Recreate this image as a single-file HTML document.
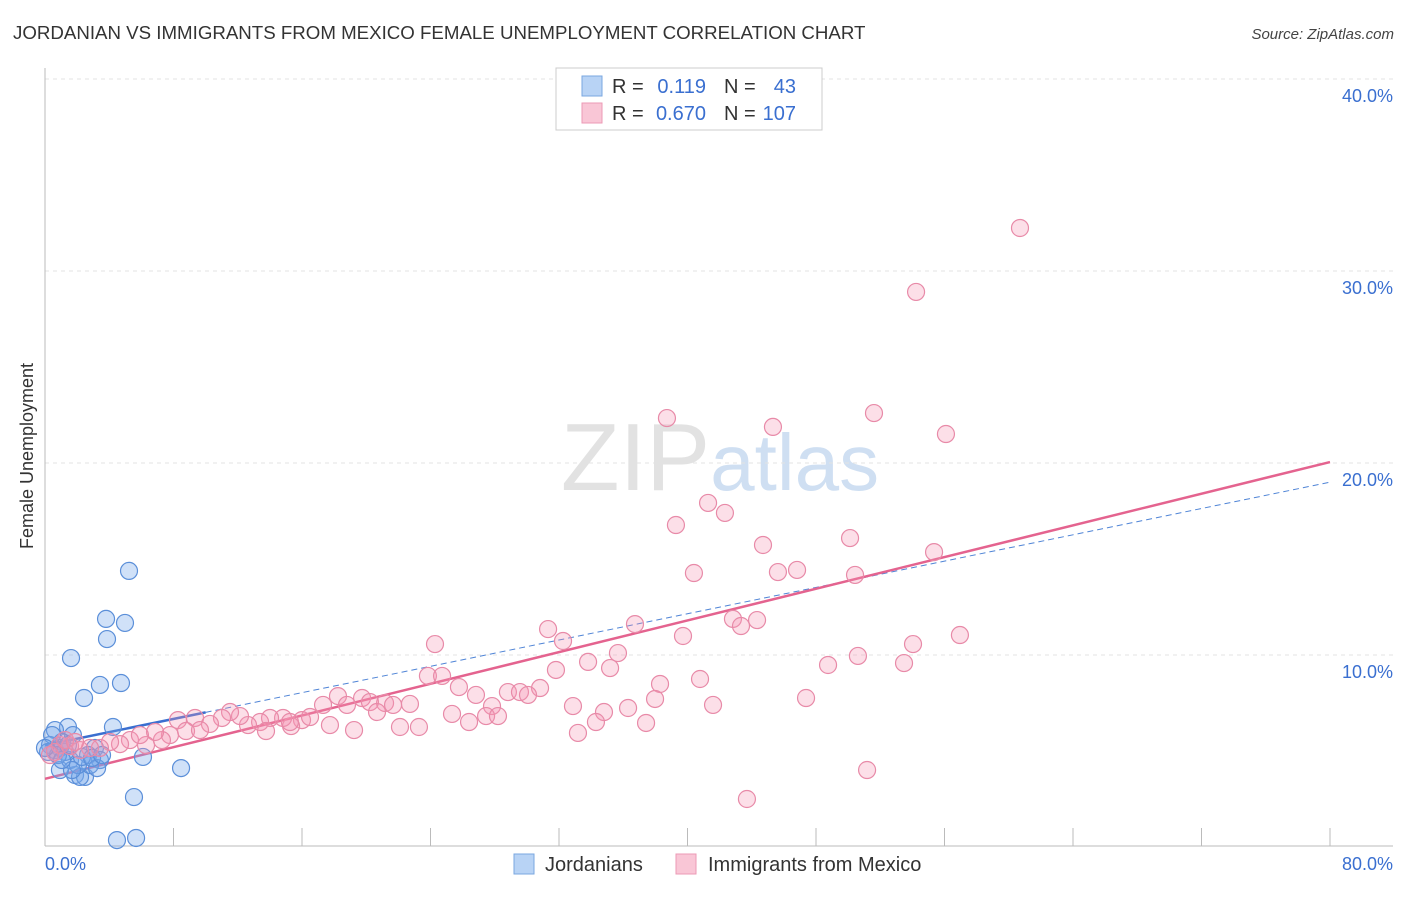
<!DOCTYPE html>
<html><head><meta charset="utf-8"><style>
body{margin:0;background:#fff;font-family:"Liberation Sans",sans-serif}
svg text{font-family:"Liberation Sans",sans-serif}
</style></head><body>
<svg id="chart" width="1406" height="892" xmlns="http://www.w3.org/2000/svg">
<text x="13" y="39" font-size="18.7" fill="#333">JORDANIAN VS IMMIGRANTS FROM MEXICO FEMALE UNEMPLOYMENT CORRELATION CHART</text>
<text x="1394" y="39" font-size="15" fill="#444" text-anchor="end" font-style="italic">Source: ZipAtlas.com</text>
<text x="720" y="490" font-size="96" text-anchor="middle" fill="#e2e2e2" font-family="Liberation Serif">ZIP<tspan fill="#cfdff2" font-family="Liberation Sans" font-size="80">atlas</tspan></text>
<g id="grid"></g>
<g id="axes"></g>
<g id="lines"></g>
<g id="pts"></g>
<text transform="translate(33,456) rotate(-90)" font-size="18" fill="#333" text-anchor="middle">Female Unemployment</text>
<g>
<rect x="556" y="68" width="266" height="62" fill="#fff" stroke="#ccc"/>
<rect x="582" y="76" width="20" height="20" fill="#b8d3f5" stroke="#7aa7e0"/>
<rect x="582" y="103" width="20" height="20" fill="#f9c6d6" stroke="#ec9ab5"/>
<text x="612" y="93" font-size="20" fill="#333">R =</text><text x="706" y="93" font-size="20" fill="#3a6fd0" text-anchor="end">0.119</text>
<text x="724" y="93" font-size="20" fill="#333">N =</text><text x="796" y="93" font-size="20" fill="#3a6fd0" text-anchor="end">43</text>
<text x="612" y="120" font-size="20" fill="#333">R =</text><text x="706" y="120" font-size="20" fill="#3a6fd0" text-anchor="end">0.670</text>
<text x="724" y="120" font-size="20" fill="#333">N =</text><text x="796" y="120" font-size="20" fill="#3a6fd0" text-anchor="end">107</text>
</g>
<g>
<rect x="514" y="854" width="20" height="20" fill="#b8d3f5" stroke="#7aa7e0"/>
<text x="545" y="871" font-size="20" fill="#333">Jordanians</text>
<rect x="676" y="854" width="20" height="20" fill="#f9c6d6" stroke="#ec9ab5"/>
<text x="708" y="871" font-size="20" fill="#333">Immigrants from Mexico</text>
</g>
</svg>
<script>
const yTicks=[10,20,30,40];
const yTickLabels=["10.0%","20.0%","30.0%","40.0%"];
const xTicks=[0,8,16,24,32,40,48,56,64,72,80];
const blueX=[129,106,125,107,71,100,121,84,113,68,55,50,60,73,95,100,143,181,134,117,136,75,85,80,60,90,70,55,62,48,52,65,88,78,97,58,45,68,82,92,102,72,62].map(p=>+((p-45)/1285*80).toFixed(2));
const blueY=[571,619,623,639,658,685,683,698,727,727,730,745,748,735,748,760,757,768,797,840,838,775,777,777,770,765,760,750,742,752,735,752,755,765,768,755,748,745,757,758,755,770,760].map(p=>+((847-p)/19.2).toFixed(2));
const pinkX=[1020,916,667,874,773,946,708,725,676,763,850,934,694,778,797,855,548,635,563,435,733,741,757,683,960,913,618,588,610,556,428,442,459,828,858,904,660,700,540,476,508,520,528,338,362,385,410,806,655,573,713,604,628,492,323,347,370,377,393,452,486,498,469,596,646,578,400,419,354,330,302,291,283,270,260,248,240,230,222,210,195,178,186,170,162,155,146,130,120,110,100,90,80,70,60,55,50,65,75,266,310,290,867,747,200,140].map(p=>+((p-45)/1285*80).toFixed(2));
const pinkY=[228,292,418,413,427,434,503,513,525,545,538,552,573,572,570,575,629,624,641,644,619,626,620,636,635,644,653,662,668,670,676,676,687,665,656,663,684,679,688,695,692,692,695,696,698,703,704,698,699,706,705,712,708,706,705,705,702,712,705,714,716,716,722,722,723,733,727,727,730,725,720,726,718,718,722,725,716,712,718,724,718,720,731,735,740,732,745,740,744,742,748,748,750,746,745,752,755,740,742,731,717,722,770,799,730,735].map(p=>+((847-p)/19.2).toFixed(2));
const blueFit=[5.3,19.0];
const pinkFit=[3.55,20.05];
const NS="http://www.w3.org/2000/svg";
const X=v=>45+v/80*1285, Y=v=>847-v*19.2;
function mk(tag,attrs,parent){const e=document.createElementNS(NS,tag);for(const k in attrs)e.setAttribute(k,attrs[k]);document.getElementById(parent).appendChild(e);return e;}
yTicks.forEach((t,i)=>{
 const l=mk('line',{x1:45,x2:1393,y1:Y(t),y2:Y(t),stroke:'#e3e3e3','stroke-dasharray':'4,4'},'grid');
 
 
 const tx=mk('text',{x:1393,y:Y(t)+23,'font-size':18,fill:'#3a6fd0','text-anchor':'end'},'grid');tx.textContent=yTickLabels[i];
 
 
});
mk('line',{x1:45,x2:1393,y1:79,y2:79,stroke:'#e3e3e3','stroke-dasharray':'4,4'},'grid');
const ya=mk('line',{x1:45,x2:45,y1:68,y2:846,stroke:'#bbb'},'axes');


const xa=mk('line',{x1:45,x2:1393,y1:846,y2:846,stroke:'#bbb'},'axes');


xTicks.forEach(t=>{const e=mk('line',{x1:X(t),x2:X(t),y1:828,y2:846,stroke:'#bbb'},'axes');
 
 });
let t0=mk('text',{x:45,y:870,'font-size':18,fill:'#3a6fd0'},'axes');t0.textContent='0.0%';


let t1=mk('text',{x:1393,y:870,'font-size':18,fill:'#3a6fd0','text-anchor':'end'},'axes');t1.textContent='80.0%';


blueX.forEach((x,i)=>{const c=mk('circle',{cx:X(x),cy:Y(blueY[i]),r:8.5,fill:'rgba(120,170,235,0.35)',stroke:'#5b8fd9','stroke-width':1.2},'pts');
 
 });
pinkX.forEach((x,i)=>{const c=mk('circle',{cx:X(x),cy:Y(pinkY[i]),r:8.5,fill:'rgba(245,150,180,0.3)',stroke:'#e88aa8','stroke-width':1.2},'pts');
 
 });
const bx=10;const byAt=v=>blueFit[0]+(blueFit[1]-blueFit[0])*v/80;
const b1=mk('line',{x1:X(0),y1:Y(byAt(0)),x2:X(bx),y2:Y(byAt(bx)),stroke:'#3a6fd0','stroke-width':2.5},'lines');


const b2=mk('line',{x1:X(bx),y1:Y(byAt(bx)),x2:X(80),y2:Y(byAt(80)),stroke:'#4f84d6','stroke-width':1,'stroke-dasharray':'6,4'},'lines');


const p1=mk('line',{x1:X(0),y1:Y(pinkFit[0]),x2:X(80),y2:Y(pinkFit[1]),stroke:'#e4638f','stroke-width':2.5},'lines');


</script>
</body></html>
